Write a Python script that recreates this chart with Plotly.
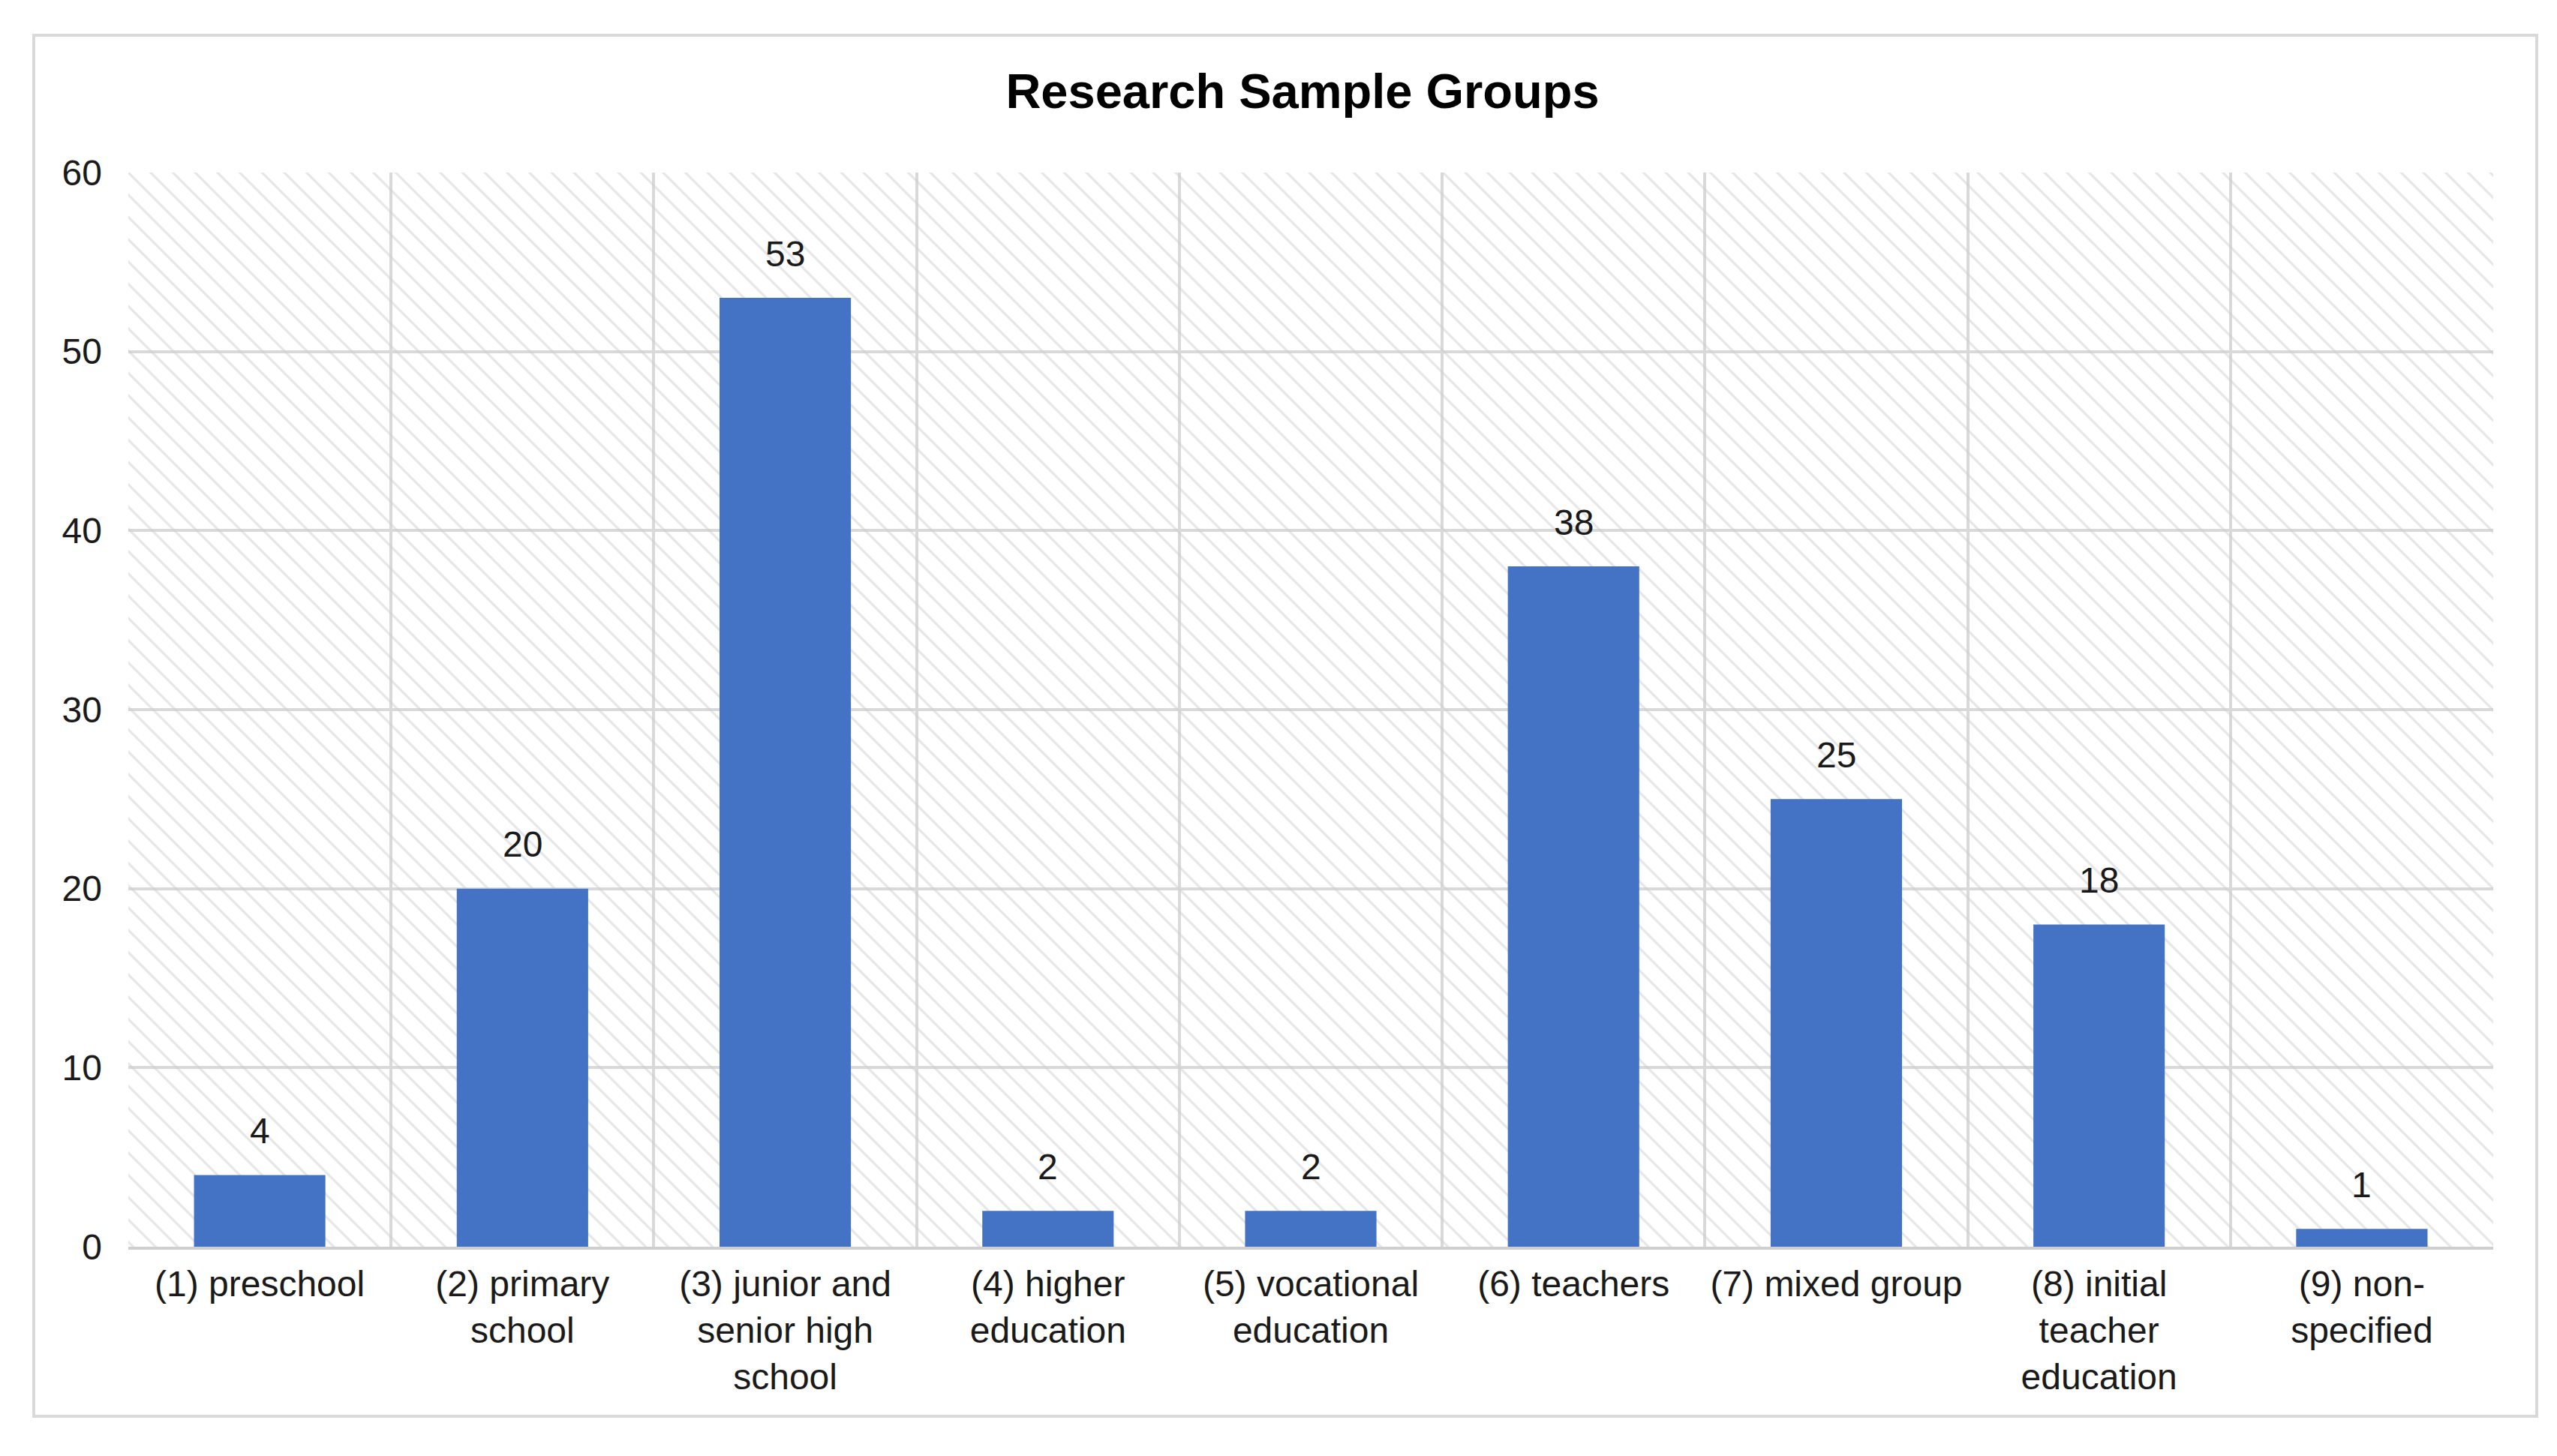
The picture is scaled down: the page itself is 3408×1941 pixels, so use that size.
import plotly.graph_objects as go

categories = [
    "(1) preschool",
    "(2) primary<br>school",
    "(3) junior and<br>senior high<br>school",
    "(4) higher<br>education",
    "(5) vocational<br>education",
    "(6) teachers",
    "(7) mixed group",
    "(8) initial<br>teacher<br>education",
    "(9) non-<br>specified",
]
values = [4, 20, 53, 2, 2, 38, 25, 18, 1]
y_ticks = [0, 10, 20, 30, 40, 50, 60]
y_max = 60
title_text = "Research Sample Groups"

W, H = 3408, 1941
L, R, T, B = 163, 93, 222, 287
FONT = "Arial, Liberation Sans, sans-serif"
GRID = "#d9d9d9"
FS = 48

fig = go.Figure()

# hatched plot-area background
fig.add_trace(go.Bar(
    x=categories, y=[y_max] * len(categories), width=1,
    marker=dict(color="rgba(0,0,0,0)", line=dict(width=0),
                pattern=dict(shape="\\", fgcolor="#cdcdcd", bgcolor="rgba(0,0,0,0)",
                             size=21, solidity=0.15, fillmode="overlay")),
    hoverinfo="skip", showlegend=False,
))

fig.add_trace(go.Bar(
    x=categories, y=values, width=0.5,
    marker=dict(color="#4472C4", line=dict(width=0)),
    showlegend=False,
))

for c, v in zip(categories, values):
    fig.add_annotation(x=c, y=v, text=str(v), showarrow=False, yshift=59,
                       yanchor="middle", font=dict(family=FONT, size=FS, color="#1a1a1a"))

pw = W - L - R
ph = H - T - B
fig.add_shape(type="rect", xref="paper", yref="paper",
              x0=(37 - L) / pw, x1=(3373 - L) / pw,
              y0=(H - B - 1880) / ph, y1=(H - B - 39) / ph,
              line=dict(color="#d9d9d9", width=4), layer="below")

fig.update_layout(
    width=W, height=H,
    margin=dict(l=L, r=R, t=T, b=B),
    paper_bgcolor="white", plot_bgcolor="white",
    barmode="overlay",
    title=dict(text="<b>" + title_text + "</b>", x=1728 / W, xref="container", xanchor="center",
               y=1 - 113 / H, yanchor="middle", yref="container",
               font=dict(family=FONT, size=65, color="#000000")),
    font=dict(family=FONT, size=FS, color="#1a1a1a"),
    xaxis=dict(type="category", tickson="boundaries", showgrid=True, gridcolor=GRID,
               gridwidth=4, showline=True, linecolor="#cfcfcf", linewidth=4,
               ticks="", ticklabelstandoff=4, tickfont=dict(size=FS, color="#1a1a1a"),
               range=[-0.5, len(categories) - 0.5]),
    yaxis=dict(range=[0, y_max], tickvals=y_ticks, showgrid=True, gridcolor=GRID,
               gridwidth=4, zeroline=False, showline=False, ticks="",
               ticklabelstandoff=34, tickfont=dict(size=FS, color="#1a1a1a")),
)

fig.write_html("out.html")
